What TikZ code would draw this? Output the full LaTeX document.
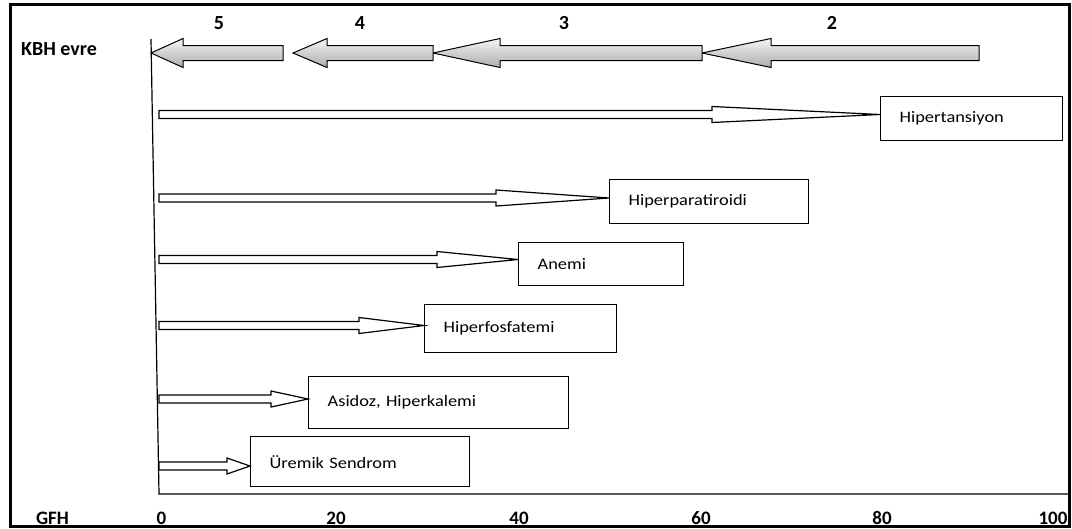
\documentclass[tikz,border=0pt]{standalone}
\usepackage{fontspec}
\setmainfont{Carlito}
\newfontfamily\boxfont{Carlito}[FakeStretch=1.15]
\usetikzlibrary{calc}
\tikzset{
  frameline/.style={line width=3pt},
  axisline/.style={line width=1.2pt},
  stagearrow/.style={draw=black, line width=1pt, top color=gray!8, bottom color=gray!65, line join=miter},
  hollow/.style={draw=black, fill=white, line width=1.2pt, line join=miter},
  box/.style={draw=black, fill=white, line width=1.3pt, anchor=north west, inner xsep=19pt, inner ysep=0pt, align=left, font=\boxfont\fontsize{16}{19}\selectfont},
  axislbl/.style={font=\bfseries\fontsize{19}{22}\selectfont, inner sep=0pt},
  stagelbl/.style={font=\bfseries\fontsize{20}{24}\selectfont, inner sep=0pt},
}
\newcommand\stagearr[3]{% #1 tip coordinate, #2 head length, #3 total length
  \draw[stagearrow] (#1) -- ++(#2,-14.5) -- ++(0,7) -- ++(#3-#2,0) -- ++(0,15) -- ++(-#3+#2,0) -- ++(0,7) -- cycle;}
\newcommand\hollowarr[3]{% #1 start coordinate, #2 tip coordinate, #3 head length
  \draw[hollow] ($(#1)+(0,-4)$) -- ($(#2)+(-#3,-4)$) -- ++(0,-4) -- (#2) -- ($(#2)+(-#3,8)$) -- ++(0,-4) -- ($(#1)+(0,4)$) -- cycle;}
\begin{document}
\begin{tikzpicture}[x=1pt,y=-1pt]
\useasboundingbox (0,0) rectangle (1072,528);
\fill[white] (0,0) rectangle (1072,528);

% axis
\coordinate (axtop) at (151,39);
\coordinate (axbot) at (159,494);
\coordinate (axend) at (1069,494);
\draw[axisline] (axtop) -- (axbot) -- (axend);

% stage labels
\node[anchor=west, font=\bfseries\fontsize{20}{24}\selectfont, inner sep=0pt] (kbh) at (21,49) {KBH evre};
\node[stagelbl] (n5) at (219,23) {5};
\node[stagelbl] (n4) at (360,23) {4};
\node[stagelbl] (n3) at (564,23) {3};
\node[stagelbl] (n2) at (832,23) {2};

% stage arrows
\coordinate (t5) at (151,53);
\coordinate (t4) at (293,53);
\coordinate (t3) at (433,53);
\coordinate (t2) at (702,53);
\stagearr{t2}{69}{277}
\stagearr{t3}{67}{269}
\stagearr{t4}{34}{140}
\stagearr{t5}{32}{132}

% boxes
\node[box, text width=144pt, minimum height=44pt] (h1) at (880,96) {Hipertansiyon};
\node[box, text width=161pt, minimum height=44pt] (h2) at (609,179) {Hiperparatiroidi};
\node[box, text width=127pt, minimum height=43pt] (h3) at (518,242) {Anemi};
\node[box, text width=154pt, minimum height=48pt] (h4) at (424,304) {Hiperfosfatemi};
\node[box, text width=222pt, minimum height=52pt] (h5) at (308,376) {Asidoz, Hiperkalemi};
\node[box, text width=181pt, minimum height=50pt] (h6) at (250,436) {Üremik Sendrom};

% hollow arrows
\coordinate (s1) at (159,114.5);
\coordinate (s2) at (159,198);
\coordinate (s3) at (159,259.5);
\coordinate (s4) at (159,325.5);
\coordinate (s5) at (159,399);
\coordinate (s6) at (159,466);
\coordinate (e1) at (s1 -| h1.west);
\coordinate (e2) at (s2 -| h2.west);
\coordinate (e3) at (s3 -| h3.west);
\coordinate (e4) at (s4 -| h4.west);
\coordinate (e5) at (s5 -| h5.west);
\coordinate (e6) at (s6 -| h6.west);
\hollowarr{s1}{e1}{168}
\hollowarr{s2}{e2}{113}
\hollowarr{s3}{e3}{81}
\hollowarr{s4}{e4}{65}
\hollowarr{s5}{e5}{37}
\hollowarr{s6}{e6}{23}

% bottom axis labels
\node[axislbl] (gfh) at (52.5,518) {GFH};
\node[axislbl] (g0) at (161.5,518) {0};
\node[axislbl] (g20) at (336,518) {20};
\node[axislbl] (g40) at (519,518) {40};
\node[axislbl] (g60) at (701,518) {60};
\node[axislbl] (g80) at (882,518) {80};
\node[axislbl] (g100) at (1053,518) {100};

% outer frame
\draw[frameline] (10,4) rectangle (1069,526.5);
\end{tikzpicture}
\end{document}
